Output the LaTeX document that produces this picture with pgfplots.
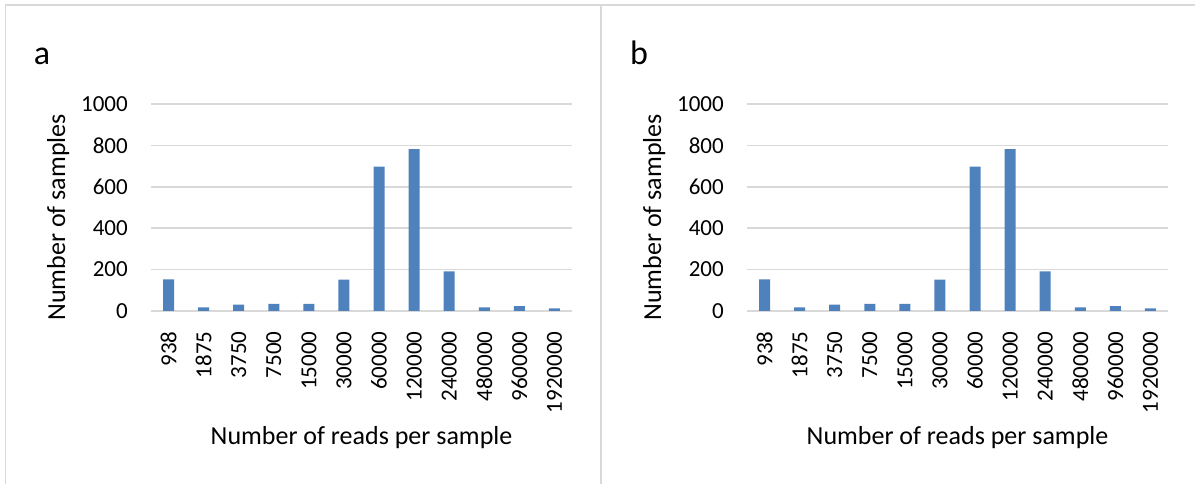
\documentclass[border=0pt]{standalone}
\usepackage{fontspec}
\setmainfont{Carlito}
\usepackage{pgfplots}
\usepackage{pgfplotstable}
\pgfplotsset{compat=1.18}
\definecolor{barblue}{HTML}{4F81BD}
\definecolor{gridgray}{HTML}{D9D9D9}

\pgfplotstableread{
idx count
0 153
1 18
2 31
3 34
4 35
5 152
6 698
7 782
8 192
9 18
10 24
11 13
}\readsdata

\pgfplotsset{
  readsplot/.style={
    ybar,
    scale only axis,
    width=421pt, height=207pt,
    anchor=south west,
    bar width=11pt,
    xmin=-0.5, xmax=11.5,
    ymin=0, ymax=1000,
    ytick={0,200,400,600,800,1000},
    xtick={0,...,11},
    xticklabels={938,1875,3750,7500,15000,30000,60000,120000,240000,480000,960000,1920000},
    ymajorgrids,
    grid style={gridgray, line width=1.5pt},
    axis line style={draw=none},
    tick style={draw=none},
    /pgf/number format/assume math mode=true,
    /pgf/number format/set thousands separator={},
    tick label style={font=\fontsize{23}{26}\selectfont},
    yticklabel style={anchor=east, inner sep=0pt, xshift=-23pt},
    xticklabel style={yshift=-16pt, rotate=90, anchor=east, inner sep=0pt},
    label style={font=\fontsize{26}{30}\selectfont},
    ylabel={Number of samples},
    xlabel={Number of reads per sample},
    ylabel style={at={(axis description cs:-0.204,0.452)}, anchor=base},
    xlabel style={at={(axis description cs:0.5,-0.647)}, anchor=base},
  }
}

\begin{document}
\begin{tikzpicture}
\useasboundingbox (0pt,0pt) rectangle (1195pt,484pt);
% panel frames
\draw[gridgray, line width=1.5pt] (5pt,479pt) -- (1195pt,479pt);
\draw[gridgray, line width=1.5pt] (5.5pt,479pt) -- (5.5pt,0pt);
\draw[gridgray, line width=2.5pt] (601pt,479pt) -- (601pt,0pt);

\begin{axis}[readsplot, at={(151pt,173pt)}]
  \addplot[fill=barblue, draw=none] table[x=idx, y=count] {\readsdata};
\end{axis}
\node[anchor=base, font=\fontsize{34}{38}\selectfont] at (42pt,419pt) {a};

\begin{axis}[readsplot, at={(747pt,173pt)}]
  \addplot[fill=barblue, draw=none] table[x=idx, y=count] {\readsdata};
\end{axis}
\node[anchor=base, font=\fontsize{34}{38}\selectfont] at (639pt,419pt) {b};
\end{tikzpicture}
\end{document}
